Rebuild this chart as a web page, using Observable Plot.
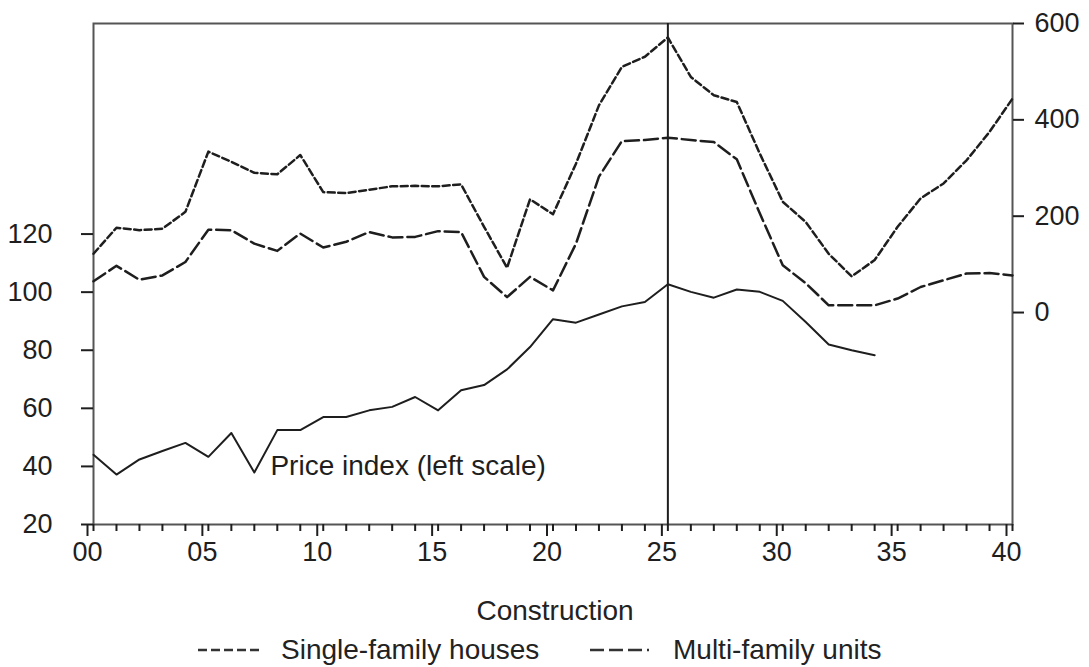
<!DOCTYPE html>
<html>
<head>
<meta charset="utf-8">
<script src="https://cdn.jsdelivr.net/npm/d3@7"></script>
<script src="https://cdn.jsdelivr.net/npm/@observablehq/plot@0.6"></script>
<style>
  html, body { margin: 0; padding: 0; background: #fff; }
  body { width: 1089px; height: 667px; overflow: hidden; font-family: "Liberation Sans", Arial, sans-serif; color: #222; }
  #legend { position: relative; height: 87px; }
  .lg-title { position: absolute; left: 0; width: 1110px; text-align: center; top: 18px; font-size: 28px; line-height: 30px; }
  .lg-item { position: absolute; top: 57px; font-size: 28px; line-height: 30px; display: flex; align-items: center; }
  .lg-item svg { margin-right: 19px; }
</style>
</head>
<body>
<div id="chart"></div>
<div id="legend">
  <div class="lg-title">Construction</div>
  <div class="lg-item" style="left:198px"><svg width="64" height="10"><line x1="0" y1="5" x2="64" y2="5" stroke="#333" stroke-width="2.5" stroke-dasharray="9,4"/></svg><span>Single-family houses</span></div>
  <div class="lg-item" style="left:590px"><svg width="64" height="10"><line x1="0" y1="5" x2="64" y2="5" stroke="#333" stroke-width="2.5" stroke-dasharray="14,5,14,5,14,5,2,5"/></svg><span>Multi-family units</span></div>
</div>
<script>
// ---- data (years 00..40) ----
const years = d3.range(0, 41);
const priceYears = d3.range(0, 35);
const priceIndex = [44, 37.2, 42.4, 45.3, 48.1, 43.3, 51.5, 37.9, 52.5, 52.5,
  57, 57, 59.3, 60.5, 63.9, 59.3, 66.2, 68, 73.4, 81.1,
  90.7, 89.5, 92.3, 95.1, 96.6, 102.7, 100.1, 98.1, 100.9, 100.1,
  97, 89.7, 82, 80, 78.3];
const singleFamily = [122, 176, 171, 174, 209, 334, 313, 290, 287, 327,
  250, 248, 255, 262, 263, 262, 266, 178, 93, 235,
  204, 309, 430, 510, 531, 571, 489, 451, 437, 330,
  230, 188, 122, 75, 109, 178, 237, 268, 316, 375, 444];
const multiFamily = [65, 97, 68, 77, 105, 172, 171, 143, 128, 164,
  135, 147, 167, 156, 157, 169, 167, 74, 32, 74,
  46, 143, 282, 356, 358, 363, 358, 354, 318, 206,
  98, 61, 15, 15, 15, 29, 53, 67, 81, 82, 77];
const leftTicks = [20, 40, 60, 80, 100, 120];
const rightTicks = [0, 200, 400, 600];
const xLabelTicks = [0, 5, 10, 15, 20, 25, 30, 35, 40];
const markerYears = [25];
const annotations = [{year: 7.7, value: 40, text: "Price index (left scale)"}];

// left scale domain and right scale domain (right series mapped onto left)
const leftDomain = [20, 192.5];
const rightDomain = [-440, 600];
const toLeft = d3.scaleLinear().domain(rightDomain).range(leftDomain);
const fromLeft = toLeft.invert;

const priceData = priceYears.map((y, i) => ({year: y, value: priceIndex[i]}));
const singleData = years.map((y, i) => ({year: y, value: toLeft(singleFamily[i])}));
const multiData = years.map((y, i) => ({year: y, value: toLeft(multiFamily[i])}));

const ink = "#1e1e1e";
const chart = Plot.plot({
  width: 1089,
  height: 578,
  marginTop: 23,
  marginBottom: 54,
  marginLeft: 93,
  marginRight: 77,
  style: {fontFamily: "'Liberation Sans', Arial, sans-serif", fontSize: "27px", color: ink, background: "#fff"},
  x: {domain: [0, 40], label: null},
  y: {domain: leftDomain, label: null},
  marks: [
    Plot.frame({stroke: "#555", strokeWidth: 2}),
    Plot.axisY(leftTicks, {anchor: "left", label: null, tickSize: 12, tickPadding: 29, strokeWidth: 2, fontSize: 27, tickFormat: d => String(d)}),
    Plot.axisY(rightTicks.map(toLeft), {anchor: "right", label: null, tickSize: 11, tickPadding: 11, strokeWidth: 2, fontSize: 27, tickFormat: d => String(Math.round(fromLeft(d)))}),
    Plot.axisX(years, {anchor: "bottom", label: null, tickSize: 7, strokeWidth: 2, tickFormat: () => ""}),
    Plot.axisX(xLabelTicks, {anchor: "bottom", label: null, tickSize: 12, tickPadding: 5, strokeWidth: 2, fontSize: 27, dx: -6, tickFormat: d => String(d).padStart(2, "0")}),
    Plot.ruleX(markerYears, {stroke: ink, strokeWidth: 2}),
    Plot.line(singleData, {x: "year", y: "value", stroke: ink, strokeWidth: 2.5, strokeDasharray: "7,3.5"}),
    Plot.line(multiData, {x: "year", y: "value", stroke: ink, strokeWidth: 2.5, strokeDasharray: "14,5"}),
    Plot.line(priceData, {x: "year", y: "value", stroke: ink, strokeWidth: 2}),
    Plot.text(annotations, {x: "year", y: "value", text: "text", textAnchor: "start", fontSize: 28, fill: ink})
  ]
});
document.getElementById("chart").appendChild(chart);
</script>
</body>
</html>
